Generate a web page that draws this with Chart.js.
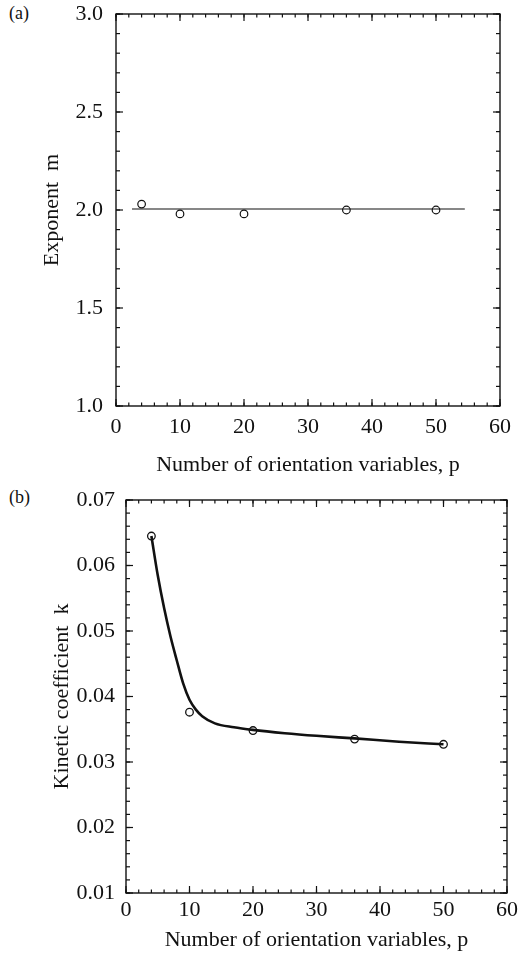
<!DOCTYPE html>
<html>
<head>
<meta charset="utf-8">
<script src="https://cdn.jsdelivr.net/npm/chart.js@4.4.1/dist/chart.umd.min.js"></script>
<style>
  html, body { margin:0; padding:0; background:#fff; }
  body { width:526px; height:961px; position:relative; overflow:hidden; font-family:"Liberation Serif", serif; }
  .wrap { position:absolute; left:0; width:526px; }
  .tag { position:absolute; left:9px; font-size:18px; color:#111; font-family:"Liberation Serif", serif; }
</style>
</head>
<body>
<div class="tag" style="top:3px;">(a)</div>
<div class="tag" style="top:487px;">(b)</div>
<div class="wrap" style="top:0;height:480px;"><canvas id="ca"></canvas></div>
<div class="wrap" style="top:480px;height:481px;"><canvas id="cb"></canvas></div>
<script>
// ---- data ----
const pA   = [4, 10, 20, 36, 50];            // number of orientation variables
const mA   = [2.03, 1.98, 1.98, 2.00, 2.00]; // exponent m
const fitAP = [2.5, 54.5];                   // horizontal fit line (a)
const fitAM = [2.005, 2.005];

const pB   = [4, 10, 20, 36, 50];
const kB   = [0.0645, 0.0376, 0.0348, 0.0335, 0.0327]; // kinetic coefficient k
const fitBP = [4, 5, 6, 7, 8, 9, 10, 11, 12, 14, 17, 20, 25, 30, 36, 43, 50];
const fitBK = [0.0645, 0.0585, 0.0535, 0.0492, 0.0455, 0.0420, 0.0395, 0.0380, 0.0370, 0.0359, 0.0353, 0.0349, 0.0344, 0.0340, 0.0336, 0.0331, 0.0327];

const xTitle = 'Number of orientation variables, p';
const yTitleA = 'Exponent  m';
const yTitleB = 'Kinetic coefficient  k';

const INK = '#111';
const FONT = 'Liberation Serif';
const FS = 22;

const frameTicks = {
  id: 'frameTicks',
  afterDraw(chart, args, o) {
    const { ctx, chartArea: { left, right, top, bottom }, scales: { x, y } } = chart;
    ctx.save();
    ctx.strokeStyle = INK;
    ctx.lineWidth = 1.4;
    ctx.strokeRect(left, top, right - left, bottom - top);
    ctx.lineWidth = 1.2;
    const seg = (x1, y1, x2, y2) => { ctx.beginPath(); ctx.moveTo(x1, y1); ctx.lineTo(x2, y2); ctx.stroke(); };
    const each = (sc, step, fn) => {
      const n = Math.round((sc.max - sc.min) / step);
      for (let i = 0; i <= n; i++) fn(sc.getPixelForValue(sc.min + i * step));
    };
    each(x, o.xMinor, px => { seg(px, bottom, px, bottom - 3.5); seg(px, top, px, top + 3.5); });
    each(x, o.xMajor, px => { seg(px, bottom, px, bottom - 7); seg(px, top, px, top + 7); });
    each(y, o.yMinor, py => { seg(left, py, left + 4, py); seg(right, py, right - 4, py); });
    each(y, o.yMajor, py => { seg(left, py, left + 7, py); seg(right, py, right - 7, py); });
    ctx.restore();
  }
};

const zeroPad = s => { s.paddingTop = 0; s.paddingBottom = 0; s.paddingLeft = 0; s.paddingRight = 0; };

function makeChart(id, cfg) {
  return new Chart(document.getElementById(id), {
    type: 'scatter',
    data: { datasets: cfg.datasets },
    options: {
      responsive: true,
      maintainAspectRatio: false,
      animation: false,
      layout: { padding: cfg.padding },
      plugins: {
        legend: { display: false },
        tooltip: { enabled: false },
        frameTicks: cfg.ticks
      },
      scales: {
        x: {
          type: 'linear', min: 0, max: 60,
          grid: { display: false, drawTicks: false }, border: { display: false },
          ticks: { stepSize: 10, color: INK, font: { family: FONT, size: FS }, padding: cfg.xTickPad, maxRotation: 0 },
          title: { display: true, text: xTitle, color: INK, font: { family: FONT, size: FS }, padding: { top: 0, bottom: cfg.xTitlePad } },
          afterFit: s => { s.height = cfg.xH; zeroPad(s); }
        },
        y: {
          type: 'linear', min: cfg.yMin, max: cfg.yMax,
          grid: { display: false, drawTicks: false }, border: { display: false },
          ticks: { stepSize: cfg.yStep, color: INK, font: { family: FONT, size: FS }, padding: cfg.yTickPad,
                   callback: v => v.toFixed(cfg.dec) },
          title: { display: true, text: cfg.yTitle, color: INK, font: { family: FONT, size: FS }, padding: { top: cfg.yTitlePad, bottom: 0 } },
          afterFit: s => { s.width = cfg.yW; zeroPad(s); }
        }
      }
    },
    plugins: [frameTicks]
  });
}

makeChart('ca', {
  datasets: [
    { data: fitAP.map((p, i) => ({ x: p, y: fitAM[i] })), showLine: true, borderColor: INK, borderWidth: 1.2, pointRadius: 0 },
    { data: pA.map((p, i) => ({ x: p, y: mA[i] })), showLine: false, pointStyle: 'circle', pointRadius: 3.8,
      pointBorderColor: INK, pointBackgroundColor: '#fff', pointBorderWidth: 1.2 }
  ],
  padding: { top: 14, right: 26, left: 0, bottom: 0 },
  yMin: 1, yMax: 3, yStep: 0.5, dec: 1, yTitle: yTitleA,
  xH: 74, yW: 116, xTickPad: 8, yTickPad: 13, xTitlePad: 2, yTitlePad: 39,
  ticks: { xMajor: 10, xMinor: 2, yMajor: 0.5, yMinor: 0.1 }
});

makeChart('cb', {
  datasets: [
    { data: fitBP.map((p, i) => ({ x: p, y: fitBK[i] })), showLine: true, borderColor: INK, borderWidth: 2.6,
      pointRadius: 0, cubicInterpolationMode: 'monotone' },
    { data: pB.map((p, i) => ({ x: p, y: kB[i] })), showLine: false, pointStyle: 'circle', pointRadius: 3.8,
      pointBorderColor: INK, pointBackgroundColor: 'rgba(255,255,255,0)', pointBorderWidth: 1.3 }
  ],
  padding: { top: 20, right: 19, left: 0, bottom: 0 },
  yMin: 0.01, yMax: 0.07, yStep: 0.01, dec: 2, yTitle: yTitleB,
  xH: 68, yW: 126, xTickPad: 4, yTickPad: 11, xTitlePad: 8, yTitlePad: 49,
  ticks: { xMajor: 10, xMinor: 2, yMajor: 0.01, yMinor: 0.002 }
});
</script>
</body>
</html>
